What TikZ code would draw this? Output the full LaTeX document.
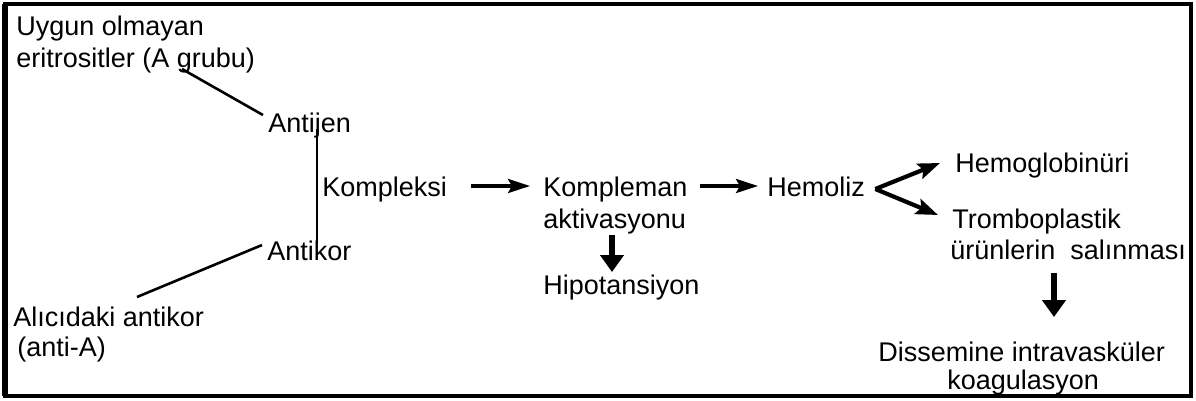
\documentclass[tikz,border=0pt]{standalone}
\usepackage{fontspec}
\setmainfont{Liberation Sans}
\usetikzlibrary{arrows.meta}
\begin{document}
\begin{tikzpicture}[x=0.5pt,y=-0.5pt,
  lbl/.style={inner sep=0pt, anchor=base west, font=\fontsize{13.5}{16}\selectfont},
  linkline/.style={line width=1.3pt},
  vline/.style={line width=0.9pt},
  harrow/.style={line width=1.7pt, -{Stealth[length=11pt,width=7pt,inset=2pt]}},
  farrow/.style={line width=2.1pt, -{Stealth[length=11pt,width=8pt,inset=2pt]}},
  varrow/.style={line width=3pt, -{Triangle[length=8.5pt,width=11.5pt]}},
  frame/.style={line width=1.8pt}
]
\useasboundingbox (0,0) rectangle (1196,401);
\draw[frame] (5,4) rectangle (1191,396);
\draw[line width=2.6pt] (5,4) -- (5,396);

\node[lbl] (uygun) at (16,36) {Uygun olmayan};
\node[lbl] (eritro) at (16,68) {eritrositler (A grubu)};
\node[lbl] (antijen) at (268,133) {Antijen};
\node[lbl] (kompleksi) at (322,197) {Kompleksi};
\node[lbl] (antikor) at (267,261) {Antikor};
\node[lbl] (alici) at (13,327) {Alıcıdaki antikor};
\node[lbl] (antiA) at (17,357) {(anti-A)};
\node[lbl] (kompleman) at (543,197) {Kompleman};
\node[lbl] (aktiv) at (543,229) {aktivasyonu};
\node[lbl] (hipo) at (543,294) {Hipotansiyon};
\node[lbl] (hemoliz) at (767,197) {Hemoliz};
\node[lbl] (hemoglo) at (955,173) {Hemoglobinüri};
\node[lbl] (trombo) at (952,229) {Tromboplastik};
\node[lbl] (urun) at (950,260) {ürünlerin\hspace{0.55em}salınması};
\node[lbl] (dissem) at (878,362) {Dissemine intravasküler};
\node[lbl] (koag) at (947,389) {koagulasyon};

\coordinate (gstart) at (182,69);
\coordinate (astart) at (137,297);
\coordinate (vx) at (317,0);
\coordinate (d1) at (612,0);
\coordinate (d2) at (1054,0);

\draw[linkline] (gstart) -- ([xshift=-2.5pt,yshift=-1pt]antijen.north west);
\draw[linkline] (astart) -- ([xshift=-2.5pt,yshift=-2pt]antikor.north west);
\draw[vline] ([yshift=2pt]antijen.base -| vx) -- ([yshift=-1pt]antikor.north -| vx);

\draw[harrow] ([xshift=12pt,yshift=5.5pt]kompleksi.base east) -- ([xshift=-6.5pt,yshift=5.5pt]kompleman.base west);
\draw[harrow] ([xshift=6pt,yshift=5.5pt]kompleman.base east) -- ([xshift=-4.5pt,yshift=5.5pt]hemoliz.base west);
\draw[farrow] ([xshift=5pt,yshift=4pt]hemoliz.base east) -- ([xshift=-7.5pt,yshift=5pt]hemoglo.base west);
\draw[farrow] ([xshift=5pt,yshift=4pt]hemoliz.base east) -- ([xshift=-7pt,yshift=7pt]trombo.base west);
\draw[varrow] (aktiv.south -| d1) -- ([yshift=1pt]hipo.north -| d1);
\draw[varrow] ([yshift=-6pt]urun.south -| d2) -- ([yshift=12.5pt]dissem.north -| d2);
\end{tikzpicture}
\end{document}
